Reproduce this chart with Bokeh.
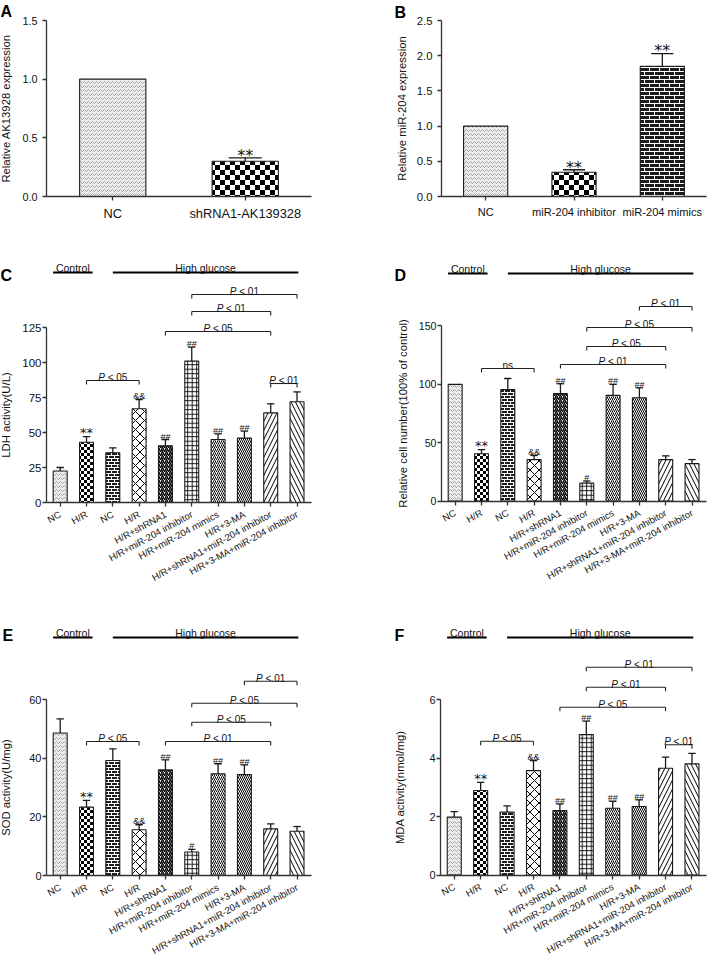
import math
import base64
from bokeh.plotting import figure
from bokeh.models import (ColumnDataSource, FixedTicker, PrintfTickFormatter, Range1d,
                          ImageURLTexture)
from bokeh.layouts import column, row
from bokeh.core.properties import value
from bokeh.embed import file_html
from bokeh.resources import INLINE

# ---------------- data ----------------
a_groups = ["NC", "shRNA1-AK139328"]
a_values = [1.00, 0.30]
a_errors = [0.0, 0.03]
a_marks = ["", "**"]

b_groups = ["NC", "miR-204 inhibitor", "miR-204 mimics"]
b_values = [1.00, 0.345, 1.85]
b_errors = [0.0, 0.035, 0.18]
b_marks = ["", "**", "**"]

groups = ["NC", "H/R", "NC", "H/R", "H/R+shRNA1", "H/R+miR-204 inhibitor",
          "H/R+miR-204 mimics", "H/R+3-MA", "H/R+shRNA1+miR-204 inhibitor",
          "H/R+3-MA+miR-204 inhibitor"]

ldh_values = [22.5, 43, 35.5, 67, 40.5, 101, 45, 46, 64, 72]
ldh_errors = [2.5, 4, 3.5, 6.5, 4.5, 10, 4, 5, 6.5, 7]
ldh_marks = ["", "**", "", "&&", "##", "##", "##", "##", "", ""]
ldh_pairs = [(2, 4), (5, 9), (6, 9), (6, 10), (9, 10)]
ldh_labels = ["P <.05", "P <.05", "P <.01", "P <.01", "P <.01"]

cell_values = [100, 40.5, 95.5, 35.5, 92, 15.3, 90.5, 88.5, 35.5, 32]
cell_errors = [0, 3.5, 9.5, 3.5, 8.5, 1.8, 9.5, 8.5, 3.2, 3.5]
cell_marks = ["", "**", "", "&&", "##", "#", "##", "##", "", ""]
cell_pairs = [(2, 4), (5, 9), (6, 9), (6, 10), (8, 10)]
cell_labels = ["ns", "P <.01", "P <.05", "P <.05", "P <.01"]

sod_values = [48.6, 23.3, 39.2, 15.6, 36, 8, 34.7, 34.4, 15.9, 15.1]
sod_errors = [4.8, 2.3, 4.0, 1.7, 3.4, 0.9, 3.4, 3.3, 1.7, 1.6]
sod_marks = ["", "**", "", "&&", "##", "#", "##", "##", "", ""]
sod_pairs = [(2, 4), (5, 9), (6, 9), (6, 10), (8, 10)]
sod_labels = ["P <.05", "P <.01", "P <.05", "P <.05", "P <.01"]

mda_values = [1.98, 2.89, 2.15, 3.57, 2.2, 4.8, 2.28, 2.34, 3.65, 3.8]
mda_errors = [0.19, 0.28, 0.21, 0.34, 0.23, 0.46, 0.24, 0.23, 0.38, 0.36]
mda_marks = ["", "**", "", "&&", "##", "##", "##", "##", "", ""]
mda_pairs = [(2, 4), (9, 10), (5, 9), (6, 9), (6, 10)]
mda_labels = ["P <.05", "P <.01", "P <.05", "P <.01", "P <.01"]

group_names = ["Control", "High glucose"]

# ---------------- styles / layout ----------------
COL_LEFT = [0, 354]
COL_W = [354, 355]
ROW_TOP = [0, 240, 600]
ROW_H = [240, 360, 358]
FONT = "Liberation Sans"
STAR = "DejaVu Sans"


def svg_uri(svg):
    return "data:image/svg+xml;base64," + base64.b64encode(svg.encode()).decode()


def checker(c):
    t = 2 * c
    return svg_uri(f"<svg xmlns='http://www.w3.org/2000/svg' width='{t}' height='{t}'>"
                   f"<rect width='{t}' height='{t}' fill='white'/>"
                   f"<rect width='{c}' height='{c}' fill='black'/>"
                   f"<rect x='{c}' y='{c}' width='{c}' height='{c}' fill='black'/></svg>")


def brick(w, h):
    # two courses of bricks, w wide and h tall (plus 1px white mortar)
    tw, th = w + 1, 2 * (h + 1)
    half = (w + 1) // 2
    return svg_uri(f"<svg xmlns='http://www.w3.org/2000/svg' width='{tw}' height='{th}'>"
                   f"<rect width='{tw}' height='{th}' fill='#1c1c1c'/>"
                   f"<rect x='0' y='{h}' width='{tw}' height='1' fill='white'/>"
                   f"<rect x='0' y='{th - 1}' width='{tw}' height='1' fill='white'/>"
                   f"<rect x='0' y='0' width='1' height='{h}' fill='white'/>"
                   f"<rect x='{half}' y='{h + 1}' width='1' height='{h}' fill='white'/></svg>")


TEXTURES = {
    "chk_big": ImageURLTexture(url=checker(5)),
    "chk_small": ImageURLTexture(url=checker(3)),
    "brick_big": ImageURLTexture(url=brick(9, 3)),
    "brick_small": ImageURLTexture(url=brick(5, 2)),
}

# fill, hatch, hatch colour, hatch scale, hatch weight
BAR_STYLES = [
    ("#ececec", "v", "#8a8a8a", 4, 0.7),
    ("#ffffff", "chk_small", "#000000", 5, 1.0),
    ("#262626", "brick_small", "#ffffff", 5, 0.9),
    ("#ffffff", "x", "#000000", 9, 1.0),
    ("#ffffff", "/", "#000000", 4, 1.5),
    ("#ffffff", "+", "#000000", 4.5, 0.9),
    ("#ffffff", "/", "#000000", 4, 1.0),
    ("#ffffff", "\\", "#000000", 4, 1.0),
    ("#ffffff", "/", "#000000", 9, 1.0),
    ("#ffffff", "\\", "#000000", 9, 1.0),
]
AB_STYLES = [BAR_STYLES[0], ("#ffffff", "chk_big", "#000000", 5, 1.0),
             ("#262626", "brick_big", "#ffffff", 5, 0.9)]

CHAR_W = {'P': 0.667, ' ': 0.278, '<': 0.584, '.': 0.278, '0': 0.556, '1': 0.556, '5': 0.556}


def text_w(s, fs):
    return sum(CHAR_W.get(c, 0.556) for c in s) * fs


def build(spec):
    col, rw = spec["cell"]
    W, H = COL_W[col], ROW_H[rw]
    fl = spec["axis_x"][0] - COL_LEFT[col]
    fr = spec["axis_x"][1] - COL_LEFT[col]
    fb = spec["y0"] - ROW_TOP[rw]
    ppu = spec["ppu"]
    xr = spec["xr"]
    ppx = (fr - fl) / (xr[1] - xr[0])
    x_lo = xr[0] - fl / ppx
    x_hi = xr[1] + (W - fr) / ppx
    y_hi = fb / ppu
    y_lo = -(H - fb) / ppu

    def ydat(yref):
        return (spec["y0"] - yref) / ppu

    def xdat(xfig):
        return x_lo + xfig / ppx

    p = figure(width=W, height=H, x_range=Range1d(x_lo, x_hi), y_range=Range1d(y_lo, y_hi),
               output_backend="svg", toolbar_location=None,
               min_border_left=0, min_border_right=0, min_border_top=0, min_border_bottom=0)
    p.outline_line_color = None
    p.grid.visible = False

    cats = spec["groups"]
    n = len(cats)
    xs = list(range(1, n + 1))
    vals, errs, marks = spec["values"], spec["errors"], spec["marks"]
    styles = spec["styles"]
    src = ColumnDataSource(dict(
        x=xs, top=vals,
        fill=[s[0] for s in styles], hatch=[s[1] for s in styles],
        hc=[s[2] for s in styles], hs=[s[3] for s in styles], hw=[s[4] for s in styles]))
    p.vbar(x="x", top="top", bottom=0, width=spec["bw"], source=src, fill_color="fill",
           hatch_pattern="hatch", hatch_color="hc", hatch_scale="hs", hatch_weight="hw",
           hatch_extra=TEXTURES, line_color="#1a1a1a", line_width=1.1)

    ex = [x for x, e in zip(xs, errs) if e > 0]
    eb = [v for v, e in zip(vals, errs) if e > 0]
    et = [v + e for v, e in zip(vals, errs) if e > 0]
    cap = spec["cap"]
    p.segment(x0=ex, y0=eb, x1=ex, y1=et, line_color="#1a1a1a", line_width=1.3)
    p.segment(x0=[x - cap for x in ex], y0=et, x1=[x + cap for x in ex], y1=et,
              line_color="#1a1a1a", line_width=1.3)

    # significance marks
    for kind, font, fs, off in [("*", STAR, spec["star_fs"], spec["star_off"]),
                                ("#", FONT, "9px", -3), ("&", FONT, "9px", -3.5)]:
        mx = [x for x, m in zip(xs, marks) if m.startswith(kind)]
        my = [v + e for v, e, m in zip(vals, errs, marks) if m.startswith(kind)]
        mt = [m for m in marks if m.startswith(kind)]
        if mx:
            p.text(x=mx, y=my, text=mt, text_font=value(font), text_font_size=fs,
                   text_align="center", text_baseline="alphabetic", y_offset=off,
                   text_color="#111111")

    # comparison brackets
    if spec.get("pairs"):
        drop = 4 / ppu
        bfs = 10
        for (i, j), lab, yref in zip(spec["pairs"], spec["labels"], spec["bracket_y"]):
            yb = ydat(yref)
            p.segment(x0=[i, i, j], y0=[yb, yb, yb], x1=[j, i, j], y1=[yb, yb - drop, yb - drop],
                      line_color="#222222", line_width=1.1)
            xm = (i + j) / 2
            if lab.startswith("P"):
                rest = lab[1:].strip()
                wp = text_w("P ", bfs)
                tw = wp + text_w(rest, bfs)
                p.text(x=[xm], y=[yb], text=["P"], text_font=value(FONT), text_font_style="italic",
                       text_font_size=f"{bfs}px", text_align="left", text_baseline="alphabetic",
                       x_offset=-tw / 2, y_offset=-3, text_color="#111111")
                p.text(x=[xm], y=[yb], text=[rest], text_font=value(FONT),
                       text_font_size=f"{bfs}px", text_align="left", text_baseline="alphabetic",
                       x_offset=-tw / 2 + wp, y_offset=-3, text_color="#111111")
            else:
                p.text(x=[xm], y=[yb], text=[lab], text_font=value(FONT),
                       text_font_size=f"{bfs}px", text_align="center", text_baseline="alphabetic",
                       y_offset=-3, text_color="#111111")

        # group lines
        gy = ydat(spec["group_y"])
        spans = [(0.73, 2.23), (3.0, 10.05)]
        p.segment(x0=[s[0] for s in spans], y0=[gy, gy], x1=[s[1] for s in spans], y1=[gy, gy],
                  line_color="#000000", line_width=2.2)
        p.text(x=[(s[0] + s[1]) / 2 for s in spans], y=[gy, gy], text=group_names,
               text_font=value(FONT), text_font_size="10.5px", text_align="center",
               text_baseline="alphabetic", y_offset=-5, text_color="#111111")

    # axes, drawn at fixed data locations inside the full-size frame
    xa = p.xaxis[0]
    xa.fixed_location = 0
    xa.bounds = (xr[0], xr[1])
    xa.ticker = FixedTicker(ticks=xs)
    xa.major_label_overrides = {x: c for x, c in zip(xs, cats)}
    xa.minor_tick_line_color = None
    xa.major_tick_in = 0
    xa.major_tick_out = 4
    xa.axis_line_width = 1.3
    xa.axis_line_color = "#333333"
    xa.major_tick_line_color = "#333333"
    xa.major_tick_line_width = 1.3
    xa.major_label_text_font = FONT
    xa.major_label_text_font_size = spec["xfs"]
    xa.major_label_text_color = "#111111"
    xa.major_label_orientation = spec["orient"]
    xa.major_label_standoff = spec["xstand"]

    ya = p.yaxis[0]
    ya.fixed_location = xr[0]
    ya.ticker = FixedTicker(ticks=spec["yticks"])
    ya.bounds = (0, spec["yticks"][-1])
    ya.formatter = PrintfTickFormatter(format=spec["yfmt"])
    ya.minor_tick_line_color = None
    ya.major_tick_in = 0
    ya.major_tick_out = 4
    ya.axis_line_width = 1.3
    ya.axis_line_color = "#333333"
    ya.major_tick_line_color = "#333333"
    ya.major_tick_line_width = 1.3
    ya.major_label_text_font = FONT
    ya.major_label_text_font_size = spec["yfs"]
    ya.major_label_text_color = "#111111"
    ya.major_label_standoff = spec["ystand"]

    # y title centred on the drawn axis
    p.text(x=[xdat(spec["title_x"])], y=[spec["yticks"][-1] / 2], text=[spec["ytitle"]],
           angle=math.pi / 2, text_font=value(FONT), text_font_size="11.3px",
           text_align="center", text_baseline="middle", text_color="#111111")

    # panel letter
    lx, ly = spec["letter"]
    p.text(x=[xdat(lx - COL_LEFT[col])], y=[ydat(ly)], text=[spec["letter_text"]],
           text_font=value(FONT), text_font_style="bold", text_font_size="16px",
           text_baseline="alphabetic", text_align="left", text_color="#000000")
    return p


common10 = dict(groups=groups, styles=BAR_STYLES, xr=(0.48, 10.55), bw=0.53, cap=0.14,
                star_fs="13px", star_off=-4, xfs="9.5px", orient=0.5, xstand=7, ystand=1)

specs = [
    dict(cell=(0, 0), letter_text="A", letter=(0, 11), groups=a_groups, values=a_values,
         errors=a_errors, marks=a_marks, styles=AB_STYLES[:2], axis_x=(46, 311), y0=196,
         ppu=117.33, xr=(0.5, 2.5), bw=0.5, cap=0.125, yticks=[0, 0.5, 1.0, 1.5], yfmt="%.1f",
         ytitle="Relative AK13928 expression", title_x=5.5, star_fs="16px", star_off=-2.6,
         xfs="12.8px", orient="horizontal", xstand=5, yfs="10.8px", ystand=5),
    dict(cell=(1, 0), letter_text="B", letter=(394, 12), groups=b_groups, values=b_values,
         errors=b_errors, marks=b_marks, styles=AB_STYLES, axis_x=(441, 706), y0=196,
         ppu=70.4, xr=(0.5, 3.5), bw=0.5, cap=0.125, yticks=[0, 0.5, 1.0, 1.5, 2.0, 2.5],
         yfmt="%.1f", ytitle="Relative miR-204 expression", title_x=47, star_fs="16px",
         star_off=-2.6, xfs="11.1px", orient="horizontal", xstand=5, yfs="11.3px", ystand=5),
    dict(common10, cell=(0, 1), letter_text="C", letter=(0, 275), values=ldh_values,
         errors=ldh_errors, marks=ldh_marks, pairs=ldh_pairs, labels=ldh_labels,
         bracket_y=[380, 331, 311, 294, 383], group_y=272, axis_x=(46, 311), y0=502, ppu=1.4,
         yticks=[0, 25, 50, 75, 100, 125], yfmt="%d", ytitle="LDH activity(U/L)", title_x=5.5,
         yfs="11.5px"),
    dict(common10, cell=(1, 1), letter_text="D", letter=(394, 275), values=cell_values,
         errors=cell_errors, marks=cell_marks, pairs=cell_pairs, labels=cell_labels,
         bracket_y=[368, 364, 346, 327, 306], group_y=273, axis_x=(441, 706), y0=500.5,
         ppu=1.1667, yticks=[0, 50, 100, 150], yfmt="%d",
         ytitle="Relative cell number(100% of control)", title_x=48, yfs="10.6px"),
    dict(common10, cell=(0, 2), letter_text="E", letter=(2, 635), values=sod_values,
         errors=sod_errors, marks=sod_marks, pairs=sod_pairs, labels=sod_labels,
         bracket_y=[741, 741, 721.7, 702.7, 680.7], group_y=637, axis_x=(46, 311), y0=875,
         ppu=2.933, yticks=[0, 20, 40, 60], yfmt="%d", ytitle="SOD activity(U/mg)",
         title_x=5.5, yfs="11px"),
    dict(common10, cell=(1, 2), letter_text="F", letter=(394, 635), values=mda_values,
         errors=mda_errors, marks=mda_marks, pairs=mda_pairs, labels=mda_labels,
         bracket_y=[740.7, 744.3, 706.7, 686.7, 666.7], group_y=637, axis_x=(440, 706),
         y0=874.5, ppu=29.25, yticks=[0, 2, 4, 6], yfmt="%d", ytitle="MDA activity(nmol/mg)",
         title_x=45.5, yfs="11px"),
]

plots = [build(s) for s in specs]
layout = column(row(plots[0], plots[1]), row(plots[2], plots[3]), row(plots[4], plots[5]))

open("out.html", "w").write(file_html(layout, INLINE))
